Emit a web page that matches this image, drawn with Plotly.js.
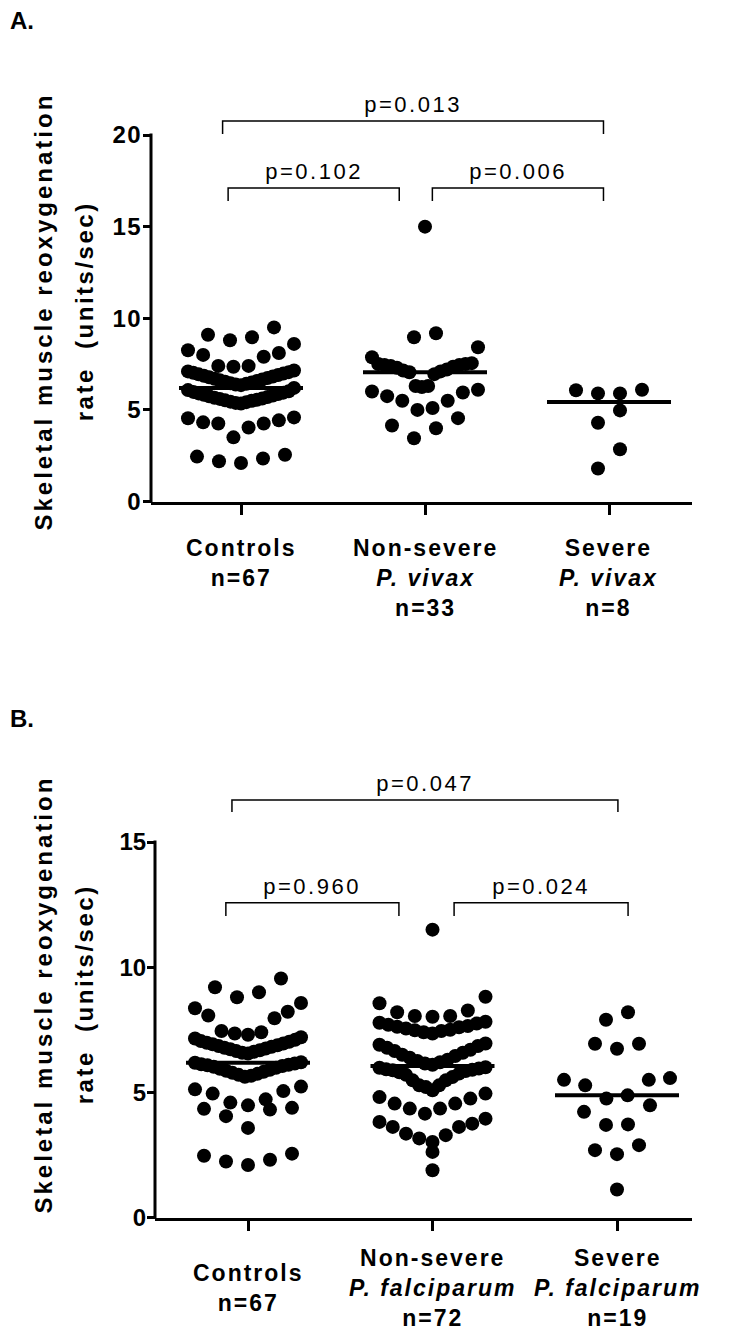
<!DOCTYPE html>
<html><head><meta charset="utf-8">
<script src="https://cdn.plot.ly/plotly-3.0.1.min.js"></script>
<style>
html,body{margin:0;padding:0;background:#fff;}
#chart{width:743px;height:1339px;}
.ytick text{letter-spacing:1.5px;}
</style></head><body><div id="chart"></div>
<script>
// ---------------- DATA ----------------
const categoriesA = ["Controls", "Non-severe<br><i>P. vivax</i>", "Severe<br><i>P. vivax</i>"];
const countsA = [67, 33, 8];
const categoriesB = ["Controls", "Non-severe<br><i>P. falciparum</i>", "Severe<br><i>P. falciparum</i>"];
const countsB = [67, 72, 19];
const yTicksA = [0, 5, 10, 15, 20];
const yTicksB = [0, 5, 10, 15];
const pValuesA = ["p=0.013", "p=0.102", "p=0.006"];
const pValuesB = ["p=0.047", "p=0.960", "p=0.024"];
const yTitleLines = ["Skeletal muscle reoxygenation", "rate  (units/sec)"];

// values grouped in the horizontal clusters seen in the picture
const controlsA = [
  [2.1, 2.2, 2.35, 2.45, 2.55],
  [3.5, 4.04, 4.26, 4.26, 4.32, 4.43, 4.54, 4.59],
  [5.35, 5.38, 5.42, 5.45, 5.5, 5.52, 5.55, 5.6, 5.62, 5.66, 5.7, 5.74, 5.78, 5.82, 5.86, 5.9, 5.94, 5.98, 6.02, 6.08, 6.2],
  [6.35, 6.38, 6.42, 6.45, 6.5, 6.54, 6.58, 6.62, 6.66, 6.7, 6.74, 6.78, 6.82, 6.86, 6.9, 6.94, 6.98, 7.02, 7.06, 7.1, 7.15],
  [7.35, 7.4, 7.4, 7.9, 8.0, 8.1, 8.25, 8.6],
  [8.8, 8.96, 9.1, 9.5]
];
const nonSevereVivax = [
  [3.45, 4.0, 4.15, 4.55],
  [5.0, 5.1, 5.5, 5.5, 5.75, 5.95, 6.0, 6.1],
  [6.25, 6.3, 6.3, 6.95, 7.05, 7.1, 7.15, 7.2, 7.3, 7.35, 7.4, 7.45, 7.45, 7.5, 7.5, 7.55, 7.87, 8.42],
  [8.96, 9.18],
  [15.0]
];
const severeVivax = [
  [1.8, 2.85],
  [4.3, 4.97],
  [5.9, 5.9, 6.07, 6.1]
];
const controlsB = [
  [2.1, 2.24, 2.31, 2.47, 2.55],
  [3.58, 4.05, 4.31, 4.34, 4.38],
  [4.48, 4.59, 4.72, 4.95, 5.05, 5.12, 5.23],
  [5.62, 5.66, 5.7, 5.74, 5.78, 5.82, 5.86, 5.9, 5.94, 5.98, 6.02, 6.05, 6.08, 6.1, 6.12, 6.15, 6.18, 6.2],
  [6.55, 6.58, 6.62, 6.65, 6.68, 6.72, 6.75, 6.78, 6.82, 6.85, 6.88, 6.92, 6.95, 6.98, 7.02, 7.05, 7.1, 7.15, 7.2],
  [7.3, 7.35, 7.4, 7.45, 7.96, 8.07, 8.22, 8.36, 8.57],
  [8.8, 9.0, 9.2, 9.55]
];
const nonSevereFalciparum = [
  [1.89],
  [2.62],
  [3.02, 3.16, 3.29, 3.35, 3.62, 3.62, 3.75, 3.82, 3.95],
  [4.15, 4.35, 4.35, 4.55, 4.55, 4.75, 4.81, 4.95],
  [5.08, 5.21, 5.28, 5.28, 5.48, 5.48, 5.61, 5.7, 5.75, 5.8, 5.85, 5.88, 5.9, 5.92, 5.95, 5.98, 6.0],
  [6.1, 6.15, 6.2, 6.25, 6.3, 6.38, 6.45, 6.5, 6.58, 6.65, 6.7, 6.78, 6.85, 6.9, 6.95],
  [7.35, 7.4, 7.45, 7.48, 7.5, 7.55, 7.6, 7.62, 7.65, 7.7, 7.75, 7.78, 7.82],
  [8.02, 8.05, 8.05, 8.2, 8.27, 8.56, 8.82],
  [11.5]
];
const severeFalciparum = [
  [1.12],
  [2.53, 2.69, 2.89],
  [3.7, 3.72, 4.22, 4.48],
  [4.75, 4.88, 5.28, 5.5, 5.5, 5.57],
  [6.74, 6.94, 6.94],
  [7.9, 8.2]
];

// ---------------- LAYOUT CONSTANTS ----------------
const W = 743, H = 1339;
const FONT = "Liberation Sans, Arial, Helvetica, sans-serif";
const GAP_PX = 22, MAXW_PX = 106, MEDIAN_HALF_PX = 62, MARKER = 14;

const panels = [
  { xa: 'x', ya: 'y', groups: [controlsA, nonSevereVivax, severeVivax], cats: categoriesA, ns: countsA,
    pv: pValuesA, yticks: yTicksA,
    axL: 151, axR: 692, cat0: 241, unitX: 184, zero: 501.5, unitY: 18.325, yTop: 23,
    brackets: [[-0.10, 1.97, 20.76, 20.05], [-0.07, 0.86, 17.11, 16.4], [1.04, 1.97, 17.11, 16.4]],
    labelY: 533, labelAnchor: 'top', tag: 'A.', tagY: 20, titleY: 312 },
  { xa: 'x2', ya: 'y2', groups: [controlsB, nonSevereFalciparum, severeFalciparum], cats: categoriesB, ns: countsB,
    pv: pValuesB, yticks: yTicksB,
    axL: 155, axR: 692, cat0: 248, unitX: 184.5, zero: 1217.5, unitY: 25.03, yTop: 18,
    brackets: [[-0.087, 2.005, 16.68, 16.2], [-0.12, 0.818, 12.57, 12.05], [1.117, 2.06, 12.57, 12.05]],
    labelY: 1288, labelAnchor: 'middle', tag: 'B.', tagY: 718, titleY: 995 }
];

function median(arr) {
  const s = arr.slice().sort((a, b) => a - b);
  const n = s.length;
  return n % 2 ? s[(n - 1) / 2] : (s[n / 2 - 1] + s[n / 2]) / 2;
}

function swarm(rows, center, unitX) {
  const xs = [], ys = [];
  rows.forEach(row => {
    const vals = row.slice().sort((a, b) => a - b);
    const n = vals.length;
    const s = n > 1 ? Math.min(GAP_PX, MAXW_PX / (n - 1)) : 0;
    const slots = [];
    for (let k = 0; k < n; k++) slots.push((k - (n - 1) / 2) * s);
    slots.sort((a, b) => (Math.round(Math.abs(a) * 100) - Math.round(Math.abs(b) * 100)) || (a - b));
    vals.forEach((v, i) => { xs.push(center + slots[i] / unitX); ys.push(v); });
  });
  return { xs, ys };
}

const traces = [], shapes = [], annotations = [], spacing = [];
const layout = {
  width: W, height: H, margin: { l: 0, r: 0, t: 0, b: 0 },
  paper_bgcolor: '#fff', plot_bgcolor: '#fff', showlegend: false,
  font: { family: FONT, color: '#000' }
};
function addAnn(a, ls) { annotations.push(a); spacing.push(ls); }

panels.forEach((p, pi) => {
  const xr = [(p.axL - p.cat0) / p.unitX, (p.axR - p.cat0) / p.unitX];
  const topPx = p.zero - p.yTop * p.unitY;
  const xKey = pi === 0 ? 'xaxis' : 'xaxis2';
  const yKey = pi === 0 ? 'yaxis' : 'yaxis2';
  layout[xKey] = {
    domain: [p.axL / W, p.axR / W], range: xr, anchor: p.ya,
    showline: true, linewidth: 3, linecolor: '#000',
    ticks: 'outside', ticklen: 10, tickwidth: 3, tickcolor: '#000',
    tickvals: [0, 1, 2], showticklabels: false, showgrid: false, zeroline: false
  };
  layout[yKey] = {
    domain: [1 - p.zero / H, 1 - topPx / H], range: [0, p.yTop], anchor: p.xa,
    showline: false, ticks: 'outside', ticklen: 7, tickwidth: 3, tickcolor: '#000',
    ticklabelstandoff: -4,
    tickvals: p.yticks, ticktext: p.yticks.map(String),
    tickfont: { family: FONT, size: 24, weight: 'bold', color: '#000' },
    showgrid: false, zeroline: false
  };
  const yMaxTick = p.yticks[p.yticks.length - 1];
  shapes.push({ type: 'line', xref: 'paper', yref: 'paper', x0: p.axL / W, x1: p.axL / W,
    y0: 1 - (p.zero + 1.5) / H, y1: 1 - (p.zero - yMaxTick * p.unitY - 1.5) / H,
    line: { color: '#000', width: 3 } });

  p.groups.forEach((rows, gi) => {
    const sw = swarm(rows, gi, p.unitX);
    traces.push({ type: 'scatter', mode: 'markers', xaxis: p.xa, yaxis: p.ya,
      x: sw.xs, y: sw.ys, marker: { size: MARKER, color: '#000', line: { width: 0 } }, hoverinfo: 'y' });
    const m = median(rows.flat());
    const hw = MEDIAN_HALF_PX / p.unitX;
    traces.push({ type: 'scatter', mode: 'lines', xaxis: p.xa, yaxis: p.ya,
      x: [gi - hw, gi + hw], y: [m, m], line: { color: '#000', width: 4 }, hoverinfo: 'skip' });
    addAnn({ xref: p.xa, yref: 'paper', x: gi, y: 1 - p.labelY / H,
      xanchor: 'center', yanchor: p.labelAnchor, align: 'center', showarrow: false,
      text: p.cats[gi] + '<br>n=' + p.ns[gi],
      font: { family: FONT, size: 23, weight: 'bold', color: '#000' } }, 2);
  });

  p.brackets.forEach((b, bi) => {
    const [a, c, top, leg] = b;
    shapes.push({ type: 'path', xref: p.xa, yref: p.ya,
      path: `M ${a},${leg} L ${a},${top} L ${c},${top} L ${c},${leg}`,
      line: { color: '#000', width: 1.5 } });
    addAnn({ xref: p.xa, yref: p.ya, x: (a + c) / 2, y: top, yshift: 2,
      xanchor: 'center', yanchor: 'bottom', showarrow: false, text: p.pv[bi],
      font: { family: FONT, size: 22, color: '#000' } }, 2.5);
  });

  addAnn({ xref: 'paper', yref: 'paper', x: 8 / W, y: 1 - p.tagY / H,
    xanchor: 'left', yanchor: 'middle', showarrow: false, text: p.tag,
    font: { family: FONT, size: 24, weight: 'bold', color: '#000' } }, 0);

  addAnn({ xref: 'paper', yref: 'paper', x: 43 / W, y: 1 - p.titleY / H,
    xanchor: 'center', yanchor: 'middle', showarrow: false, textangle: -90, text: yTitleLines[0],
    font: { family: FONT, size: 24, weight: 'bold', color: '#000' } }, 3);
  addAnn({ xref: 'paper', yref: 'paper', x: 84 / W, y: 1 - p.titleY / H,
    xanchor: 'center', yanchor: 'middle', showarrow: false, textangle: -90, text: yTitleLines[1],
    font: { family: FONT, size: 24, weight: 'bold', color: '#000' } }, 2.5);
});

layout.shapes = shapes;
layout.annotations = annotations;
Plotly.newPlot('chart', traces, layout, { staticPlot: true, displayModeBar: false }).then(gd => {
  gd.querySelectorAll('g.annotation').forEach(g => {
    const i = +g.getAttribute('data-index');
    const t = g.querySelector('text.annotation-text');
    if (t && spacing[i]) t.style.letterSpacing = spacing[i] + 'px';
  });
});
</script></body></html>
